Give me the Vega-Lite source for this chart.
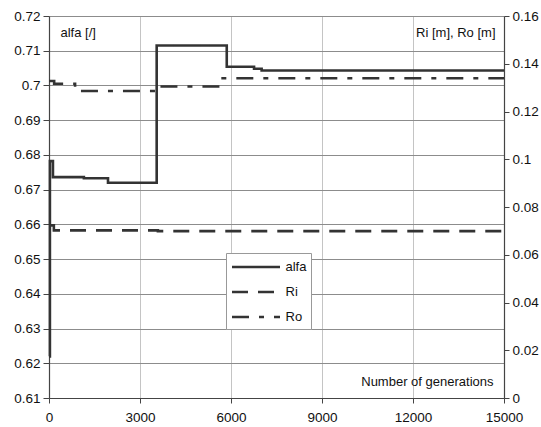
{
  "$schema": "https://vega.github.io/schema/vega-lite/v6.json",
  "width": 455,
  "height": 382,
  "autosize": {"type": "none"},
  "padding": {"left": 49, "top": 16, "right": 37, "bottom": 29},
  "background": "white",
  "config": {
    "font": "Liberation Sans",
    "view": {"stroke": null},
    "axis": {"labelFont": "Liberation Sans", "titleFont": "Liberation Sans", "labelFontSize": 13.5, "titleFontSize": 13, "labelColor": "#111", "titleColor": "#111", "titleFontWeight": "normal", "domainColor": "#444", "tickColor": "#444", "domainWidth": 1.2, "tickSize": 5}
  },
  "data": {
    "values": [
      {"gen": 0, "value": 0.622, "series": "alfa"},
      {"gen": 30, "value": 0.6782, "series": "alfa"},
      {"gen": 130, "value": 0.6736, "series": "alfa"},
      {"gen": 1150, "value": 0.6733, "series": "alfa"},
      {"gen": 1945, "value": 0.672, "series": "alfa"},
      {"gen": 3550, "value": 0.7115, "series": "alfa"},
      {"gen": 5860, "value": 0.7054, "series": "alfa"},
      {"gen": 6760, "value": 0.7048, "series": "alfa"},
      {"gen": 7010, "value": 0.7043, "series": "alfa"},
      {"gen": 15000, "value": 0.7043, "series": "alfa"},
      {"gen": 0, "value": 0.0723, "series": "Ri"},
      {"gen": 160, "value": 0.0702, "series": "Ri"},
      {"gen": 3590, "value": 0.0699, "series": "Ri"},
      {"gen": 15000, "value": 0.0699, "series": "Ri"},
      {"gen": 0, "value": 0.1328, "series": "Ro"},
      {"gen": 170, "value": 0.1316, "series": "Ro"},
      {"gen": 860, "value": 0.1286, "series": "Ro"},
      {"gen": 3550, "value": 0.1305, "series": "Ro"},
      {"gen": 5660, "value": 0.1339, "series": "Ro"},
      {"gen": 15000, "value": 0.1339, "series": "Ro"}
    ]
  },
  "encoding": {
    "x": {
      "field": "gen", "type": "quantitative",
      "scale": {"domain": [0, 15000], "nice": false, "zero": false},
      "axis": {
        "values": [0, 3000, 6000, 9000, 12000, 15000], "format": "d",
        "grid": true, "gridColor": "#c4c4c4", "gridWidth": 1,
        "labelPadding": 7, "labelFlush": false,
        "title": "Number of generations", "titleAnchor": null,
        "titleAlign": "right", "titleBaseline": "middle",
        "titleX": 444, "titleY": -17
      }
    }
  },
  "layer": [
    {
      "transform": [{"filter": "datum.series === 'alfa'"}],
      "mark": {"type": "line", "interpolate": "step-after", "strokeWidth": 2.6, "color": "#333"},
      "encoding": {
        "y": {
          "field": "value", "type": "quantitative",
          "scale": {"domain": [0.61, 0.72], "nice": false, "zero": false},
          "axis": {
            "orient": "left",
            "values": [0.61, 0.62, 0.63, 0.64, 0.65, 0.66, 0.67, 0.68, 0.69, 0.7, 0.71, 0.72],
            "format": ".2~f", "grid": true, "gridColor": "#8c8c8c", "gridWidth": 1,
            "tickSize": 6, "labelPadding": 3,
            "title": "alfa [/]", "titleAngle": 0, "titleAlign": "left", "titleBaseline": "middle",
            "titleX": 11, "titleY": 16
          }
        },
        "strokeDash": {
          "field": "series", "type": "nominal",
          "scale": {"domain": ["alfa", "Ri", "Ro"], "range": [[1, 0], [16, 10], [17, 10, 5, 10]]},
          "legend": {
            "title": null, "orient": "none", "legendX": 177, "legendY": 237,
            "strokeColor": "#999", "fillColor": "white", "padding": 4.5,
            "symbolType": "M-1,0H5", "symbolSize": 256, "symbolStrokeWidth": 2.6,
            "symbolStrokeColor": "#333", "symbolFillColor": "transparent",
            "labelFont": "Liberation Sans", "labelFontSize": 13, "labelColor": "#111",
            "labelOffset": 36, "rowPadding": 8,
            "labelExpr": "datum.label + '\u00a0\u00a0\u00a0\u00a0\u00a0\u00a0'"
          }
        }
      }
    },
    {
      "transform": [{"filter": "datum.series !== 'alfa'"}],
      "mark": {"type": "line", "interpolate": "step-after", "strokeWidth": 2.6, "color": "#333"},
      "encoding": {
        "detail": {"field": "series", "type": "nominal"},
        "y": {
          "field": "value", "type": "quantitative",
          "scale": {"domain": [0, 0.16], "nice": false, "zero": false},
          "axis": {
            "orient": "right",
            "values": [0, 0.02, 0.04, 0.06, 0.08, 0.1, 0.12, 0.14, 0.16],
            "format": ".2~f", "grid": false, "labelPadding": 3,
            "title": "Ri [m], Ro [m]", "titleAngle": 0, "titleAlign": "right", "titleBaseline": "middle",
            "titleX": -9, "titleY": 16
          }
        },
        "strokeDash": {
          "field": "series", "type": "nominal",
          "scale": {"domain": ["alfa", "Ri", "Ro"], "range": [[1, 0], [16, 10], [17, 10, 5, 10]]}
        }
      }
    }
  ],
  "resolve": {"scale": {"y": "independent"}}
}
